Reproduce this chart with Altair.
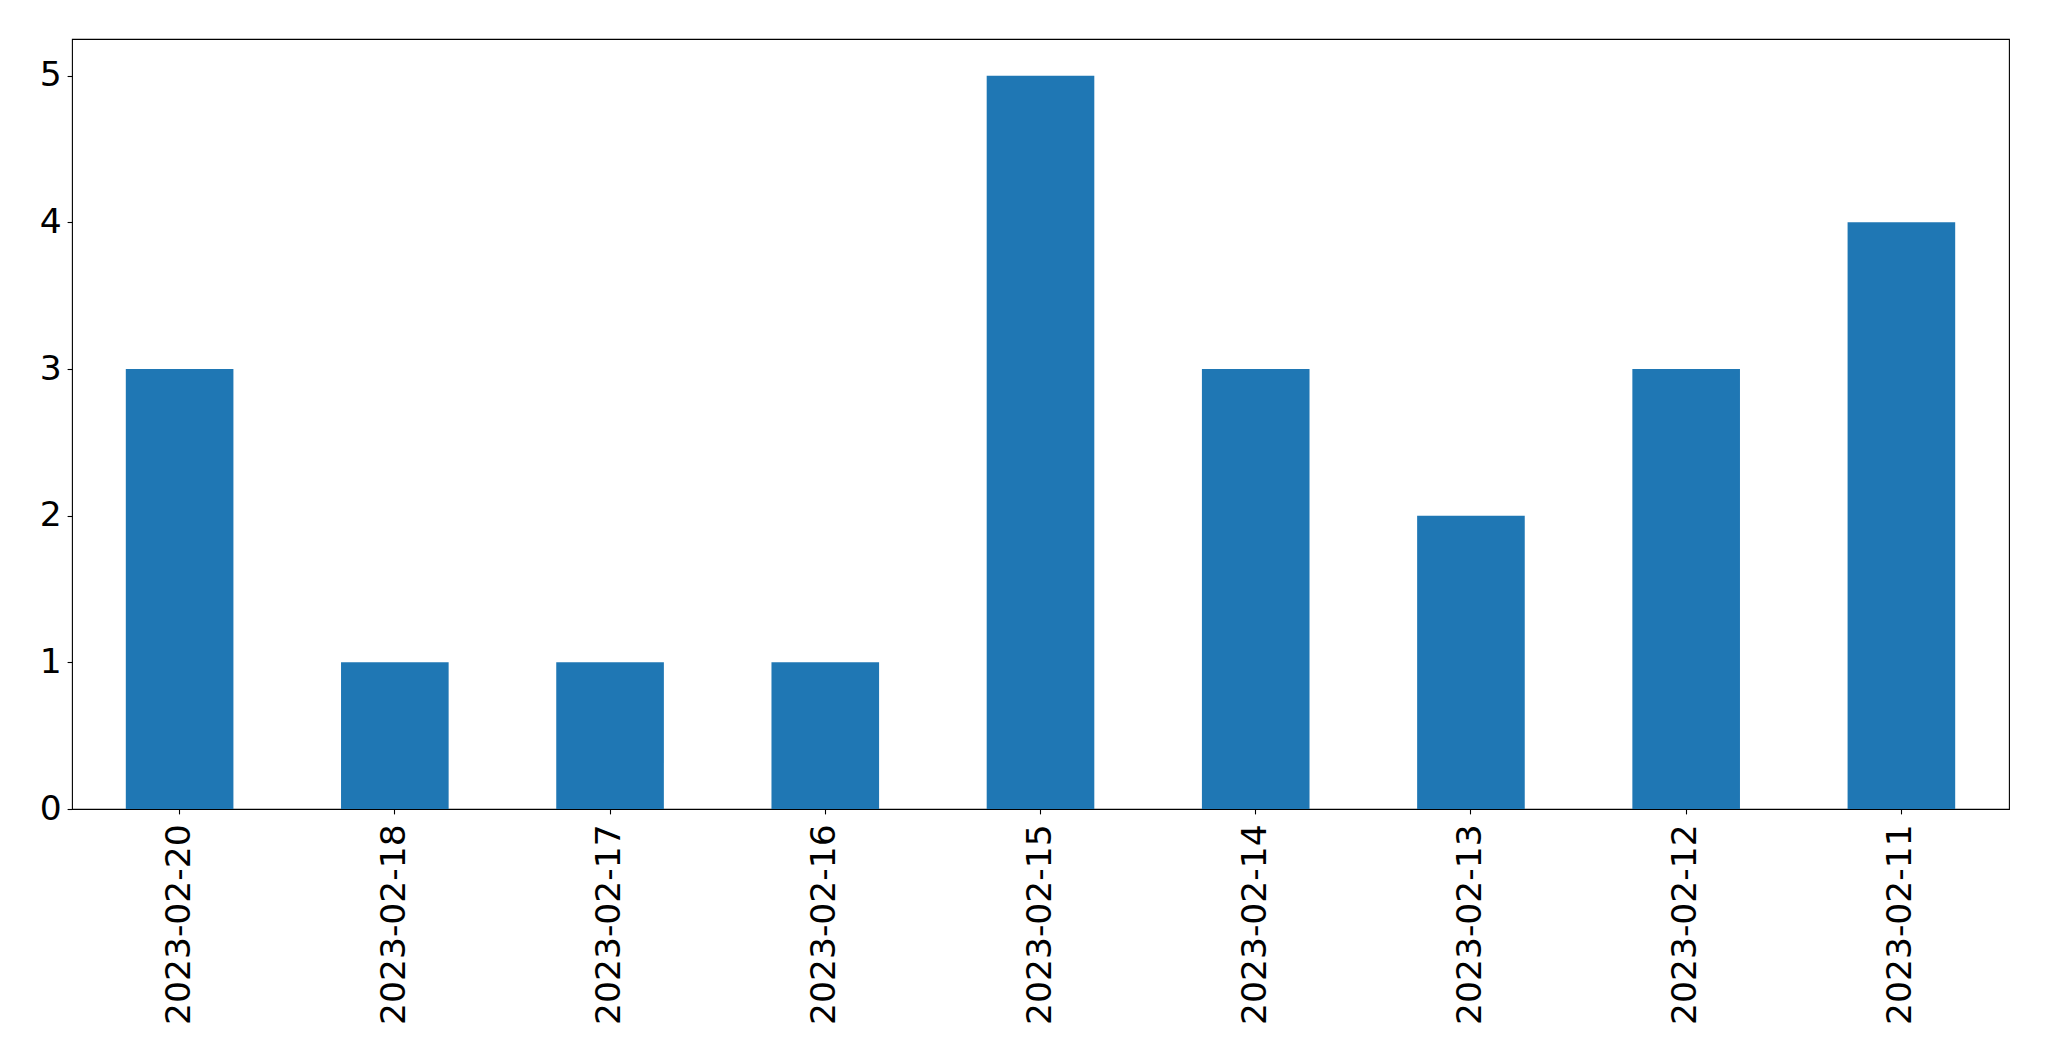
import altair as alt
import pandas as pd

dates = ["2023-02-20", "2023-02-18", "2023-02-17", "2023-02-16", "2023-02-15",
         "2023-02-14", "2023-02-13", "2023-02-12", "2023-02-11"]
counts = [3, 1, 1, 1, 5, 3, 2, 3, 4]

df = pd.DataFrame({"date": dates, "count": counts})

chart = alt.Chart(df).mark_bar(color="#1f77b4").encode(
    x=alt.X("date:N", sort=None, title=None,
            scale=alt.Scale(paddingInner=0.5, paddingOuter=0.25),
            axis=alt.Axis(labelAngle=-90, labelFontSize=34.5, labelFont="DejaVu Sans",
                          labelColor="black", tickColor="black", tickSize=4.9,
                          tickWidth=1.1, labelPadding=10, labelLimit=500,
                          domain=False, grid=False)),
    y=alt.Y("count:Q", title=None,
            scale=alt.Scale(domain=[0, 5.25], nice=False, zero=True),
            axis=alt.Axis(values=[0, 1, 2, 3, 4, 5], format="d", labelFontSize=34.5,
                          labelFont="DejaVu Sans", labelColor="black", tickColor="black",
                          tickSize=4.9, tickWidth=1.1, labelPadding=6, domain=False,
                          grid=False)),
).properties(
    width=1937,
    height=770,
    autosize=alt.AutoSizeParams(type="none"),
    padding={"left": 64, "top": 31, "right": 30, "bottom": 230},
).configure(
    background="white",
    view=alt.ViewConfig(stroke="black", strokeWidth=1.1),
)

chart.save("out.html", embed_options={"renderer": "svg", "actions": False})
